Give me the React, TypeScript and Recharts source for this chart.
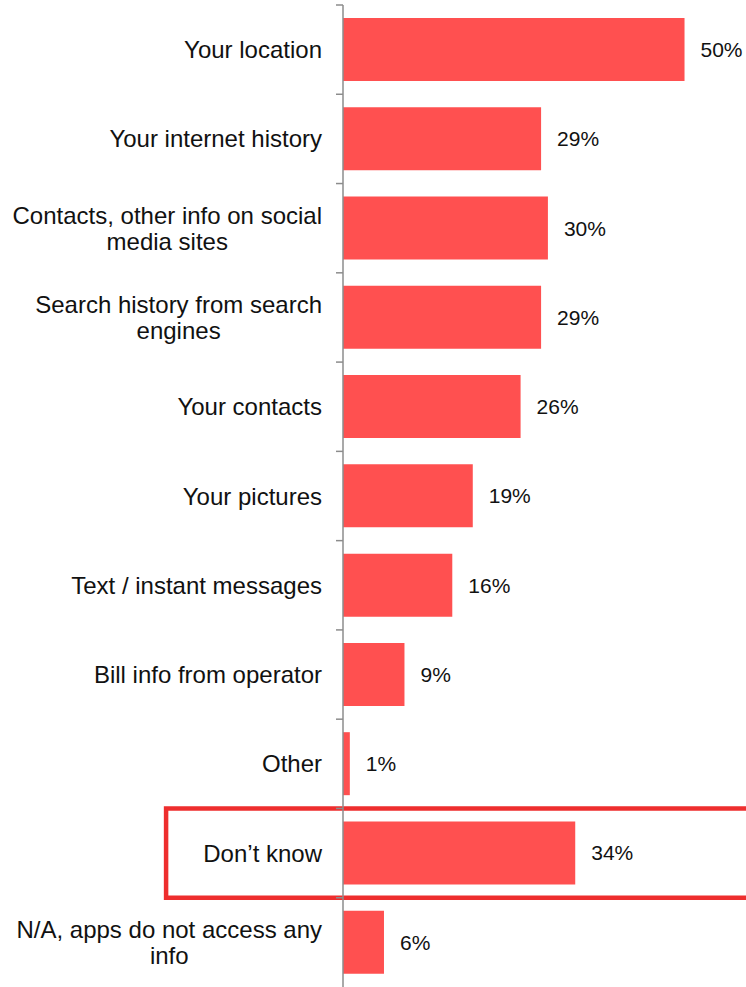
import React from "react";
import {
  BarChart,
  Bar,
  XAxis,
  YAxis,
  LabelList,
  ReferenceArea,
} from "recharts";

// categories top to bottom, "\n" marks the line break of the original labels
const categories = [
  "Your location",
  "Your internet history",
  "Contacts, other info on social\nmedia sites",
  "Search history from search\nengines",
  "Your contacts",
  "Your pictures",
  "Text / instant messages",
  "Bill info from operator",
  "Other",
  "Don’t know",
  "N/A, apps do not access any\ninfo",
];
const shares = [50, 29, 30, 29, 26, 19, 16, 9, 1, 34, 6];
const highlighted = "Don’t know";

const data = categories.map((name, i) => ({ name, value: shares[i] }));

const WIDTH = 746;
const HEIGHT = 987;
const TOP = 5;
const AXIS_W = 343;
const BAND = (HEIGHT - TOP) / categories.length;
const FONT = "'Liberation Sans', Arial, sans-serif";
const CAT_SIZE = 24;

let ctx: CanvasRenderingContext2D | null = null;
const measure = (s: string) => {
  if (!ctx) ctx = document.createElement("canvas").getContext("2d");
  if (!ctx) return s.length * CAT_SIZE * 0.5;
  ctx.font = `${CAT_SIZE}px 'Liberation Sans'`;
  return ctx.measureText(s).width;
};

const CategoryTick = ({ x, y, payload }: any) => {
  const lines = String(payload.value).split("\n");
  const axisX = x + 21;
  const boundary = y - BAND / 2;
  const blockW = Math.max(...lines.map(measure));
  const lineH = 26;
  const startY = y - ((lines.length - 1) * lineH) / 2;
  return (
    <g>
      <line x1={axisX - 7} x2={axisX} y1={boundary} y2={boundary} stroke="#8c8c8c" strokeWidth={1.5} />
      {lines.map((line, i) => (
        <text
          key={i}
          x={lines.length > 1 ? x - blockW / 2 : x}
          y={startY + i * lineH}
          dy="0.355em"
          textAnchor={lines.length > 1 ? "middle" : "end"}
          fontSize={CAT_SIZE}
          fontFamily={FONT}
          fill="#111"
        >
          {line}
        </text>
      ))}
    </g>
  );
};

export default function App() {
  return (
    <div
      style={{
        position: "absolute",
        left: 0,
        top: 0,
        width: WIDTH,
        height: HEIGHT,
        overflow: "hidden",
        background: "#fff",
      }}
    >
      <BarChart
        width={WIDTH}
        height={HEIGHT}
        data={data}
        layout="vertical"
        margin={{ top: TOP, right: 0, bottom: 0, left: 0 }}
        barSize={63}
      >
        <XAxis type="number" domain={[0, 59]} hide />
        <YAxis
          type="category"
          dataKey="name"
          width={AXIS_W}
          tickSize={6}
          tickMargin={15}
          tickLine={false}
          axisLine={{ stroke: "#8c8c8c", strokeWidth: 1.5 }}
          tick={<CategoryTick />}
          interval={0}
        />
        <Bar dataKey="value" fill="#FF5050" isAnimationActive={false}>
          <LabelList
            dataKey="value"
            position="right"
            offset={16}
            formatter={(v: any) => `${v}%`}
            fontSize={21}
            fontFamily={FONT}
            fill="#111"
          />
        </Bar>
        <ReferenceArea
          x1={-25.9}
          x2={62}
          y1={highlighted}
          y2={highlighted}
          fill="none"
          fillOpacity={0}
          stroke="#EE2E2E"
          strokeWidth={4.5}
          ifOverflow="visible"
        />
      </BarChart>
    </div>
  );
}
